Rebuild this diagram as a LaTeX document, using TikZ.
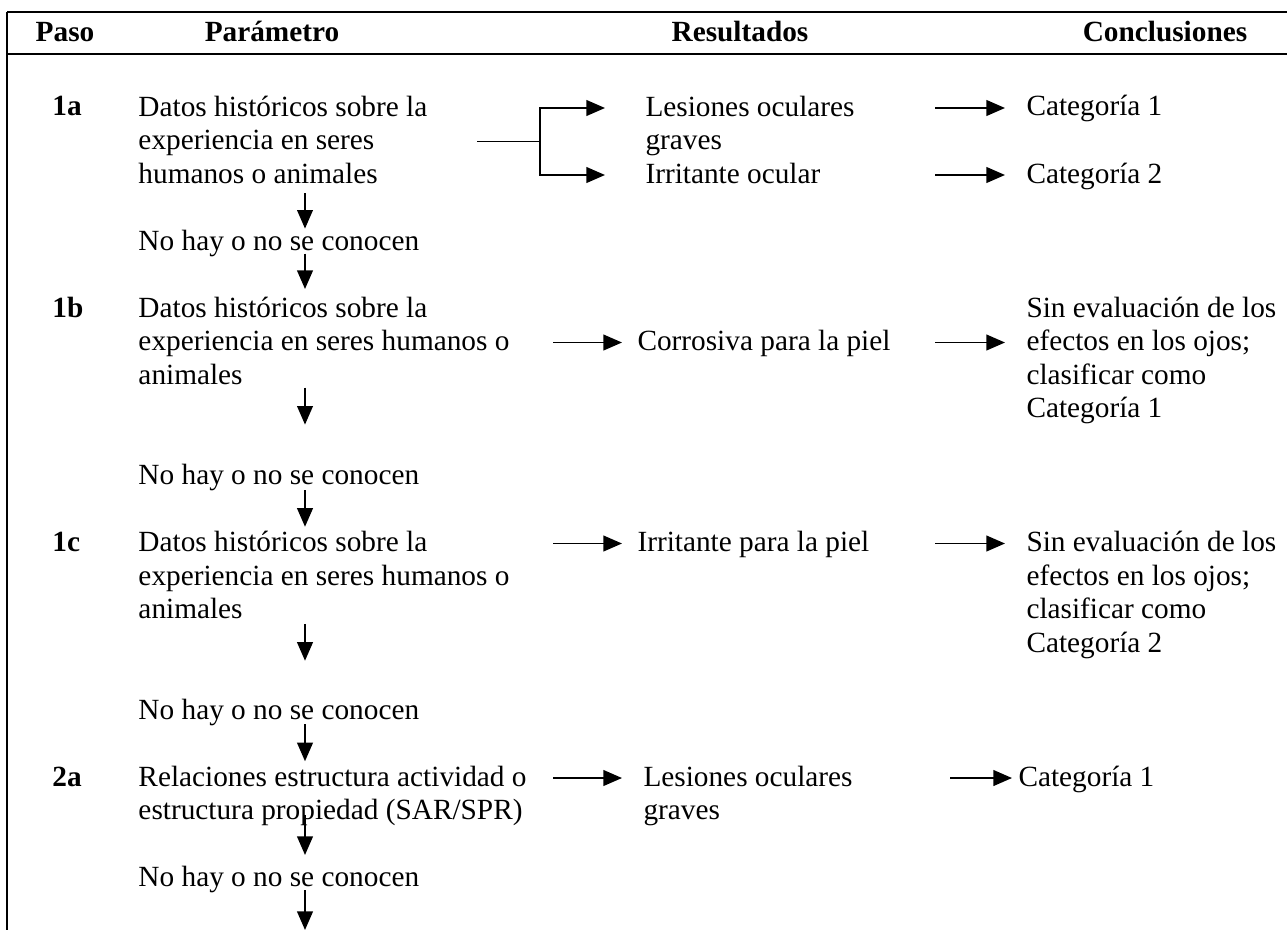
\documentclass[tikz,border=0pt]{standalone}
\usepackage{fontspec}
\setmainfont{Liberation Serif}
\usetikzlibrary{arrows.meta}
\begin{document}
\begin{tikzpicture}[x=0.4096pt,y=-0.4096pt,
  txt/.style={font=\fontsize{12}{13.72}\selectfont, inner sep=0pt, anchor=base west, align=left},
  hdr/.style={font=\fontsize{12}{13.72}\selectfont\bfseries, inner sep=0pt, anchor=base},
  paso/.style={font=\fontsize{12}{13.72}\selectfont\bfseries, inner sep=0pt, anchor=base west},
  arr/.style={-{Triangle[length=7.6pt,width=6.4pt]}, line width=0.8pt},
  ln/.style={line width=0.8pt},
  rule/.style={line width=1.1pt}]
\useasboundingbox (0,0) rectangle (1287,930);
% frame
\coordinate (tl) at (7,12); \coordinate (tr) at (1287,12);
\coordinate (hl) at (7,54); \coordinate (hr) at (1287,54);
\coordinate (bl) at (7,930);
\draw[rule] (tl) -- (tr);
\draw[rule] (hl) -- (hr);
\draw[rule] (tl) -- (bl);
% header
\node[hdr] (hpaso) at (65,42) {Paso};
\node[hdr] (hparam) at (272,42) {Parámetro};
\node[hdr] (hres) at (740,42) {Resultados};
\node[hdr] (hconc) at (1165,42) {Conclusiones};
% row 1a
\node[paso] (s1a) at (52,116) {1a};
\node[txt] (p1a) at (138,183) {Datos históricos sobre la\\experiencia en seres\\humanos o animales};
\node[txt] (r1a) at (645,149.5) {Lesiones oculares\\graves};
\node[txt] (r1b) at (645,183) {Irritante ocular};
\node[txt] (c1a) at (1026,116) {Categoría 1};
\node[txt] (c1b) at (1026,183) {Categoría 2};
\coordinate (b0) at (477,141.5); \coordinate (bj) at (540,141.5);
\coordinate (t1) at (605,108); \coordinate (t2) at (605,175);
\draw[ln] (b0) -- (bj);
\draw[arr] (bj) |- (t1);
\draw[arr] (bj) |- (t2);
\coordinate (k1s) at (935,108); \coordinate (k1e) at (1005,108);
\coordinate (k2s) at (935,175); \coordinate (k2e) at (1005,175);
\draw[arr] (k1s) -- (k1e);
\draw[arr] (k2s) -- (k2e);
% down 1
\coordinate (d1s) at (305,193.4); \coordinate (d1e) at (305,228.6);
\draw[arr] (d1s) -- (d1e);
\node[txt] (n1) at (138,250) {No hay o no se conocen};
\coordinate (d2s) at (305,253.7); \coordinate (d2e) at (305,289);
\draw[arr] (d2s) -- (d2e);
% row 1b
\node[paso] (s1bb) at (52,317) {1b};
\node[txt] (p1bb) at (138,384) {Datos históricos sobre la\\experiencia en seres humanos o\\animales};
\coordinate (a3s) at (553,342.5); \coordinate (a3e) at (622,342.5);
\draw[arr] (a3s) -- (a3e);
\node[txt] (r1bb) at (637,350.5) {Corrosiva para la piel};
\coordinate (k3s) at (935,342.5); \coordinate (k3e) at (1005,342.5);
\draw[arr] (k3s) -- (k3e);
\node[txt] (c1bb) at (1026,417.5) {Sin evaluación de los\\efectos en los ojos;\\clasificar como\\Categoría 1};
\coordinate (d3s) at (305,387.7); \coordinate (d3e) at (305,424.6);
\draw[arr] (d3s) -- (d3e);
\node[txt] (n2) at (138,484.5) {No hay o no se conocen};
\coordinate (d4s) at (305,490); \coordinate (d4e) at (305,526.75);
\draw[arr] (d4s) -- (d4e);
% row 1c
\node[paso] (s1c) at (52,551.5) {1c};
\node[txt] (p1c) at (138,618.5) {Datos históricos sobre la\\experiencia en seres humanos o\\animales};
\coordinate (a4s) at (553,543.5); \coordinate (a4e) at (622,543.5);
\draw[arr] (a4s) -- (a4e);
\node[txt] (r1c) at (637,551.5) {Irritante para la piel};
\coordinate (k4s) at (935,543.5); \coordinate (k4e) at (1005,543.5);
\draw[arr] (k4s) -- (k4e);
\node[txt] (c1c) at (1026,652) {Sin evaluación de los\\efectos en los ojos;\\clasificar como\\Categoría 2};
\coordinate (d5s) at (305,623.9); \coordinate (d5e) at (305,660.75);
\draw[arr] (d5s) -- (d5e);
\node[txt] (n3) at (138,719) {No hay o no se conocen};
\coordinate (d6s) at (305,724.4); \coordinate (d6e) at (305,761.25);
\draw[arr] (d6s) -- (d6e);
% row 2a
\node[paso] (s2a) at (52,786) {2a};
\node[txt] (p2a) at (138,819.5) {Relaciones estructura actividad o\\estructura propiedad (SAR/SPR)};
\coordinate (a5s) at (553,778); \coordinate (a5e) at (622,778);
\draw[arr] (a5s) -- (a5e);
\node[txt] (r2a) at (643,819.5) {Lesiones oculares\\graves};
\coordinate (k5s) at (950,778); \coordinate (k5e) at (1012,778);
\draw[arr] (k5s) -- (k5e);
\node[txt] (c2a) at (1018,786) {Categoría 1};
\coordinate (d7s) at (305,814.85); \coordinate (d7e) at (305,855);
\draw[arr] (d7s) -- (d7e);
\node[txt] (n4) at (138,886.5) {No hay o no se conocen};
\coordinate (d8s) at (305,890); \coordinate (d8e) at (305,930);
\draw[arr] (d8s) -- (d8e);
\end{tikzpicture}
\end{document}
